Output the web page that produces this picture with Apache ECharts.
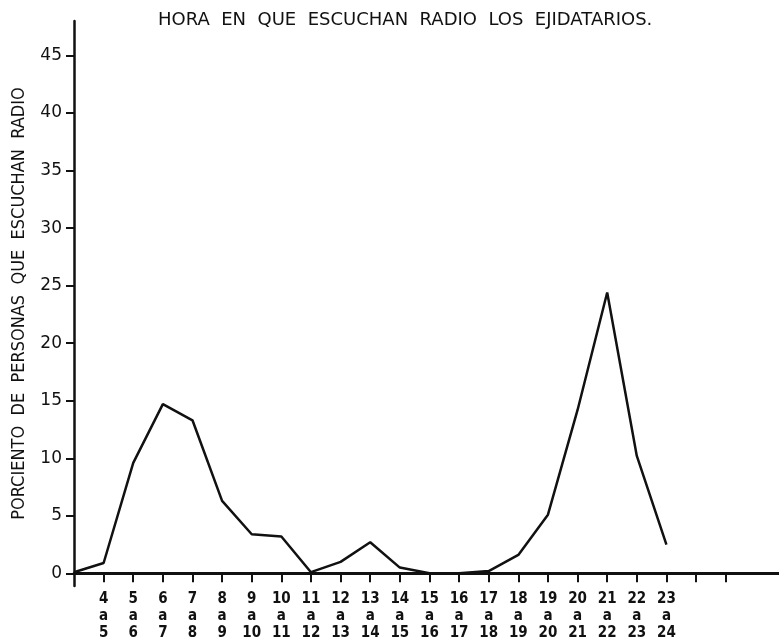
<!DOCTYPE html>
<html>
<head>
<meta charset="utf-8">
<script src="https://cdn.jsdelivr.net/npm/echarts@6/dist/echarts.min.js"></script>
<style>
html,body{margin:0;padding:0;background:#fff;}
#chart{width:779px;height:642px;}
</style>
</head>
<body>
<div id="chart"></div>
<script>
// Hour at which each interval starts (3 = origin point)
const hours = [3,4,5,6,7,8,9,10,11,12,13,14,15,16,17,18,19,20,21,22,23];
// Percent of people listening to radio
const pct = [0.1,0.9,9.6,14.7,13.3,6.3,3.4,3.2,0.1,1.0,2.7,0.5,0,0,0.2,1.6,5.1,14.2,24.4,10.2,2.5];
// X tick label start hours ("4 a 5" ... "23 a 24")
const labelStarts = [4,5,6,7,8,9,10,11,12,13,14,15,16,17,18,19,20,21,22,23];
// X tick marks
const xTickValues = [4,5,6,7,8,9,10,11,12,13,14,15,16,17,18,19,20,21,22,23,24,25];
// Y tick labels
const yTickValues = [0,5,10,15,20,25,30,35,40,45];

const titleText = 'HORA  EN  QUE  ESCUCHAN  RADIO  LOS  EJIDATARIOS.';
const yName = 'PORCIENTO  DE  PERSONAS  QUE  ESCUCHAN  RADIO';

const chart = echarts.init(document.getElementById('chart'), null, {renderer:'canvas'});
chart.setOption({
  backgroundColor: '#ffffff',
  animation: false,
  title: {
    text: titleText,
    left: 158,
    top: 9,
    padding: 0,
    textStyle: {fontFamily: 'DejaVu Sans', fontSize: 18, fontWeight: 'normal', color: '#111', lineHeight: 22}
  },
  grid: {left: 74, right: 0, top: 21, bottom: 55, containLabel: false},
  xAxis: {
    type: 'value',
    min: 3,
    max: 26.8,
    splitLine: {show: false},
    axisLine: {show: true, onZero: true, lineStyle: {color: '#111', width: 3}},
    axisTick: {show: true, customValues: xTickValues, length: 9, lineStyle: {color: '#111', width: 2}},
    axisLabel: {
      show: true,
      customValues: labelStarts,
      margin: 5,
      fontFamily: "'Liberation Sans Narrow', 'DejaVu Sans Condensed', sans-serif",
      fontWeight: 'bold',
      fontSize: 15,
      lineHeight: 17,
      color: '#111',
      formatter: function (v) { return v + '\na\n' + (v + 1); }
    }
  },
  yAxis: {
    type: 'value',
    min: -1.1,
    max: 48,
    name: yName,
    nameLocation: 'middle',
    nameGap: 46,
    nameTextStyle: {fontFamily: "'Liberation Sans Narrow', 'DejaVu Sans Condensed', sans-serif", fontSize: 18, color: '#111'},
    splitLine: {show: false},
    axisLine: {show: true, lineStyle: {color: '#111', width: 2.5}},
    axisTick: {show: true, customValues: yTickValues, length: 8, lineStyle: {color: '#111', width: 2}},
    axisLabel: {
      show: true,
      customValues: yTickValues,
      margin: 12,
      fontFamily: 'DejaVu Sans',
      fontSize: 17,
      color: '#111'
    }
  },
  series: [{
    type: 'line',
    data: hours.map((h, i) => [h, pct[i]]),
    showSymbol: false,
    symbol: 'none',
    lineStyle: {color: '#111', width: 2.5},
    z: 3
  }]
});
</script>
</body>
</html>
